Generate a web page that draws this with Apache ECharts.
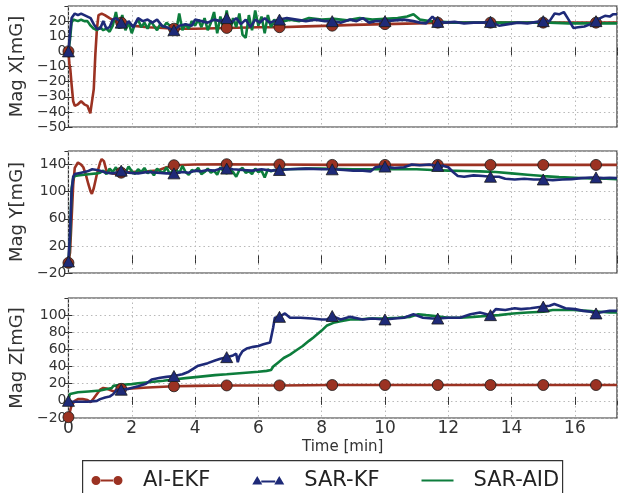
<!DOCTYPE html>
<html>
<head>
<meta charset="utf-8">
<script src="https://cdn.jsdelivr.net/npm/echarts@6/dist/echarts.min.js"></script>
<style>
html,body{margin:0;padding:0;background:#fff;}
#c{width:629px;height:493px;}
</style>
</head>
<body>
<div id="c"></div>
<script>
// ---------- data ----------
const seriesNames = ['AI-EKF', 'SAR-KF', 'SAR-AID'];
const yTitles = ['Mag X[mG]', 'Mag Y[mG]', 'Mag Z[mG]'];
const xTitle = 'Time [min]';
const xMin = 0, xMax = 17.33, xStep = 2;
const yMin = [-50, -20, -20];
const yMax = [30, 160, 120];
const yStep = [10, 40, 20];
const markerTimes = [0, 1.667, 3.333, 5, 6.667, 8.333, 10, 11.667, 13.333, 15, 16.667];

// Mag X
const xEkfT = [0, 0.03, 0.06, 0.1, 0.15, 0.2, 0.3, 0.4, 0.45, 0.5, 0.6, 0.69, 0.74, 0.8, 0.85, 0.9, 0.95, 1.05, 1.15, 1.3, 1.47, 1.667, 2.0, 2.5, 3.0, 3.333, 4.0, 5.0, 6.0, 6.667, 7.5, 8.333, 9.0, 10.0, 11.0, 11.667, 12.5, 13.333, 14.0, 15.0, 16.0, 16.667, 17.33];
const xEkfV = [0, -8, -12, -22, -33, -36, -35, -33, -34, -35, -36, -41, -40, -25, -2, 15, 24, 25, 24, 22, 20, 19, 17, 16, 15.5, 15, 15, 15.5, 16, 16, 16.5, 17, 17.5, 18, 18.5, 19, 19, 19, 19, 19, 19, 19, 19];
const xKfT = [0, 0.05, 0.1, 0.2, 0.3, 0.4, 0.5, 0.6, 0.7, 0.8, 0.9, 1.0, 1.1, 1.2, 1.3, 1.4, 1.5, 1.667, 1.8, 1.9, 2.05, 2.2, 2.35, 2.5, 2.65, 2.8, 2.95, 3.1, 3.2, 3.333, 3.5, 3.7, 3.9, 4.0, 4.2, 4.4, 4.6, 4.8, 5.0, 5.15, 5.3, 5.45, 5.6, 5.75, 5.9, 6.05, 6.2, 6.35, 6.5, 6.667, 6.9, 7.2, 7.5, 7.8, 8.1, 8.333, 8.6, 8.9, 9.1, 9.3, 9.5, 9.7, 10.0, 10.3, 10.6, 10.9, 11.1, 11.3, 11.5, 11.667, 11.9, 12.2, 12.5, 12.8, 13.1, 13.333, 13.6, 13.9, 14.2, 14.5, 14.8, 15.0, 15.2, 15.36, 15.5, 15.65, 15.8, 15.95, 16.1, 16.3, 16.5, 16.667, 16.8, 16.95, 17.1, 17.2, 17.33];
const xKfV = [0, 12, 22, 25, 24, 25, 24, 23, 22, 18, 15, 15, 20, 15, 16, 21, 22, 19, 17, 20, 16, 22, 20, 21, 19, 21, 17, 16, 15, 14, 17, 18, 17, 21, 20, 19, 21, 20, 22, 19, 22, 18, 21, 16, 21, 19, 22, 19, 20, 21, 22, 21, 20, 21, 20, 20, 19, 21, 20, 22, 19, 20, 20, 20.5, 21, 20, 19, 18.5, 23, 19.5, 19, 19.5, 18.5, 19, 19, 19.5, 17, 18, 19, 18.5, 19.5, 20, 20, 25, 24.5, 26, 21, 15.5, 16, 16.5, 18, 20, 22, 23.5, 23, 24.5, 24.5];
const xAidT = [0, 0.05, 0.1, 0.15, 0.2, 0.3, 0.4, 0.5, 0.6, 0.7, 0.8, 0.9,
  1.0, 1.1, 1.2, 1.3, 1.4, 1.5, 1.6, 1.7, 1.8, 1.9, 2.0, 2.1, 2.2, 2.3, 2.4, 2.5, 2.6, 2.7, 2.8, 2.9,
  3.0, 3.1, 3.2, 3.3, 3.4, 3.5, 3.6, 3.7, 3.8, 3.9, 4.0, 4.1, 4.2, 4.3, 4.4, 4.5, 4.6, 4.7, 4.8, 4.9,
  5.0, 5.1, 5.2, 5.3, 5.4, 5.5, 5.6, 5.7, 5.8, 5.9, 6.0, 6.1, 6.2, 6.3, 6.4, 6.5, 6.6,
  6.8, 7.0, 7.3, 7.6, 8.0, 8.4, 8.8, 9.2, 9.6, 10.0, 10.4, 10.7, 10.9, 11.1, 11.4, 11.8, 12.2, 12.8, 13.4, 14.0, 14.6, 15.2, 15.8, 16.4, 17.0, 17.33];
const xAidV = [0, 8, 19, 21, 21, 20, 21, 20, 20, 17, 15, 14,
  16, 14, 15, 13, 17, 26, 15, 24, 14, 19, 12, 18, 21, 16, 19, 15, 20, 17, 14, 18,
  16, 19, 17, 15, 13, 25, 14, 18, 15, 20, 17, 21, 16, 22, 14, 19, 26, 12, 23, 15,
  27, 13, 22, 16, 25, 11, 9, 24, 14, 27, 17, 23, 12, 24, 16, 21, 18,
  20, 21, 20, 22, 21, 21.5, 20.5, 22, 21, 21.5, 22, 23, 24.5, 21, 20, 19.5, 19, 19, 19, 19, 19, 19, 18.5, 18.5, 18.5, 18.5];

// Mag Y
const yEkfT = [0, 0.05, 0.1, 0.15, 0.2, 0.3, 0.4, 0.47, 0.55, 0.63, 0.7, 0.74, 0.8, 0.9, 1.0, 1.05, 1.12, 1.2, 1.3, 1.4, 1.5, 1.667, 2.0, 2.5, 2.8, 3.1, 3.333, 4.0, 5.0, 6.0, 6.667, 8.333, 10.0, 11.667, 13.333, 15.0, 16.667, 17.33];
const yEkfV = [-5, 10, 60, 110, 135, 143, 140, 136, 125, 111, 100, 97, 105, 126, 143, 148, 145, 131, 128, 127, 126, 128, 129, 130, 131, 136, 139, 140, 140.5, 140, 140, 139.5, 139.5, 139.5, 139.5, 139.5, 139.5, 139.5];
const yKfT = [0, 0.05, 0.1, 0.15, 0.2, 0.4, 0.6, 0.75, 0.9, 1.0, 1.2, 1.4, 1.5, 1.667, 1.9, 2.2, 2.5, 2.8, 3.1, 3.333, 3.6, 3.8, 4.0, 4.2, 4.4, 4.6, 4.8, 5.0, 5.2, 5.5, 5.8, 6.1, 6.4, 6.667, 7.0, 7.5, 8.0, 8.333, 8.7, 9.0, 9.3, 9.55, 9.7, 9.85, 10.0, 10.3, 10.6, 10.85, 11.1, 11.4, 11.667, 11.85, 12.0, 12.15, 12.3, 12.5, 12.8, 13.1, 13.333, 13.6, 13.8, 14.1, 14.4, 14.7, 15.0, 15.3, 15.6, 15.9, 16.2, 16.5, 16.667, 16.9, 17.1, 17.33];
const yKfV = [-3, 40, 100, 122, 126, 128, 130, 133, 132, 131, 128, 127, 128, 131, 128, 127, 129, 128, 127, 127, 129, 128, 131, 130, 132, 131, 134, 134, 133, 132, 131, 133, 131, 132, 133, 134, 133, 133, 132, 131, 131, 130, 136, 137, 137, 135, 136, 140, 139, 140, 138, 138, 136, 129, 123, 122, 124, 123, 122, 122, 119, 118, 119, 118, 118, 117, 118, 118.5, 120, 121, 121, 120, 120.5, 120];
const yAidT = [0, 0.05, 0.1, 0.15, 0.2, 0.3, 0.5, 0.7, 0.9,
  1.0, 1.1, 1.2, 1.3, 1.4, 1.5, 1.6, 1.7, 1.8, 1.9, 2.0, 2.1, 2.2, 2.3, 2.4, 2.5, 2.6, 2.7, 2.8, 2.9,
  3.0, 3.1, 3.2, 3.3, 3.4, 3.5, 3.6, 3.7, 3.8, 3.9, 4.0, 4.1, 4.2, 4.3, 4.4, 4.5, 4.6, 4.7, 4.8, 4.9,
  5.0, 5.1, 5.2, 5.3, 5.4, 5.5, 5.6, 5.7, 5.8, 5.9, 6.0, 6.1, 6.2, 6.3, 6.4, 6.5, 6.6,
  6.8, 7.2, 7.6, 8.0, 8.5, 9.0, 9.5, 10.0, 10.5, 11.0, 11.5, 12.0, 12.5, 13.0, 13.5, 14.0, 14.5, 15.0, 15.5, 16.0, 16.5, 17.0, 17.33];
const yAidV = [-5, 30, 105, 120, 123, 124, 125, 126, 127,
  128, 131, 126, 134, 129, 136, 125, 132, 128, 137, 130, 126, 133, 129, 135, 127, 131, 124, 134, 130,
  128, 136, 126, 131, 133, 127, 138, 129, 125, 132, 130, 135, 126, 129, 134, 128, 131, 125, 136, 130,
  127, 133, 129, 122, 132, 135, 128, 130, 126, 134, 129, 131, 121, 133, 130, 132, 131,
  133, 133.5, 134, 134, 133.5, 133, 133, 133, 133, 133, 132, 131, 130.5, 130, 129, 127, 125, 123, 121.5, 120.5, 119.5, 119, 118.5];

// Mag Z
const zEkfT = [0, 0.05, 0.1, 0.2, 0.3, 0.45, 0.6, 0.7, 0.8, 0.9, 1.0, 1.1, 1.2, 1.3, 1.42, 1.55, 1.667, 2.0, 2.5, 3.0, 3.333, 4.0, 5.0, 6.0, 6.667, 8.333, 10.0, 11.667, 13.333, 15.0, 16.667, 17.33];
const zEkfV = [-19, -12, -5, 0, 2, 2, 1, -1.5, 3, 8, 13, 15, 14.5, 13, 11, 13, 14, 14.5, 15.5, 16.5, 17, 17.5, 18, 18, 18, 18.5, 18.5, 18.5, 18.5, 18.5, 18.5, 18.5];
const zKfT = [0, 0.1, 0.3, 0.6, 0.9, 1.0, 1.16, 1.3, 1.42, 1.53, 1.667, 1.9, 2.2, 2.45, 2.63, 2.9, 3.1, 3.333, 3.6, 3.8, 4.1, 4.4, 4.63, 4.8, 5.0, 5.2, 5.3, 5.35, 5.4, 5.5, 5.63, 5.84, 6.0, 6.16, 6.37, 6.43, 6.47, 6.52, 6.667, 6.75, 6.84, 7.0, 7.33, 7.7, 8.0, 8.17, 8.333, 8.6, 8.9, 9.3, 9.6, 10.0, 10.3, 10.6, 10.9, 11.2, 11.5, 11.667, 12.0, 12.37, 12.7, 13.0, 13.333, 13.5, 13.8, 14.1, 14.3, 14.6, 15.0, 15.2, 15.35, 15.5, 15.7, 16.0, 16.26, 16.5, 16.667, 16.9, 17.1, 17.33];
const zKfV = [0, -1, -1, -1, 0, 2, 4, 5, 8, 13, 13, 14, 17, 20, 25, 27, 28, 29, 31, 34, 41, 44, 47, 49, 51, 53, 55, 45, 52, 58, 61, 63, 64, 66, 68, 70, 86, 97, 98, 100, 102, 97, 97, 96, 95, 95, 99, 95, 98, 95, 96, 95, 96, 97, 101, 97, 96, 96, 97, 97, 101, 103, 100, 107, 106, 108, 107, 108, 110, 111, 113, 111, 108, 107, 105, 104, 102, 104, 105, 105];
const zAidT = [0, 0.05, 0.1, 0.3, 0.63, 1.0, 1.37, 1.42, 1.6, 2.0, 2.2, 2.6, 3.0, 3.32, 3.7, 4.1, 4.63, 5.0, 5.5, 6.0, 6.26, 6.4, 6.47, 6.6, 6.8, 7.0, 7.2, 7.4, 7.6, 7.74, 7.84, 8.0, 8.17, 8.37, 8.6, 8.9, 9.2, 9.5, 9.95, 10.4, 10.8, 11.05, 11.3, 11.58, 12.0, 12.37, 12.8, 13.2, 13.6, 14.05, 14.5, 15.0, 15.3, 15.6, 15.95, 16.4, 16.8, 17.1, 17.33];
const zAidV = [2, 8, 9, 10, 11, 12, 15, 17.5, 18.5, 19.5, 20.5, 22, 23.5, 25, 26.5, 28, 30, 31, 32.5, 34, 35, 36, 40, 44, 50, 54, 59, 64, 70, 74, 77, 82, 88, 91, 93, 95, 95, 96, 96, 97, 98, 101, 100, 99, 97, 97, 98, 99, 100, 102, 103, 104, 106, 106, 106, 105, 104, 103, 103];

const panels = [
  [[xEkfT, xEkfV], [xKfT, xKfV], [xAidT, xAidV]],
  [[yEkfT, yEkfV], [yKfT, yKfV], [yAidT, yAidV]],
  [[zEkfT, zEkfV], [zKfT, zKfV], [zAidT, zAidV]]
];

// ---------- styles ----------
const colors = ['#9b3222', '#1e2a78', '#0d7d3c'];
const symbols = ['circle', 'triangle', null];
const symSizes = [11, [12, 11], 0];
const FONT = 'DejaVu Sans';
const gridBoxes = [
  {left: 68, right: 12, top: 6, height: 121},
  {left: 68, right: 12, top: 151, height: 122},
  {left: 68, right: 12, top: 298, height: 120}
];
const dotted = {type: [1.5, 3], color: '#b8b8b8', width: 1};
const minusFmt = v => String(v).replace('-', '\u2212');

function build(T, V, sym) {
  return T.map((t, i) => {
    const isM = sym && markerTimes.some(m => Math.abs(m - t) < 0.002);
    return isM ? {value: [t, V[i]]} : {value: [t, V[i]], symbol: 'none'};
  });
}

const xAxes = [], yAxes = [], series = [];
gridBoxes.forEach((g, i) => {
  const last = i === gridBoxes.length - 1;
  xAxes.push({
    type: 'value', gridIndex: i, min: xMin, max: xMax, interval: xStep, position: 'bottom',
    axisLine: {show: false},
    axisTick: {show: true, inside: true, length: 4, lineStyle: {color: '#333'}},
    axisLabel: {show: last, showMaxLabel: false, margin: 2, fontFamily: FONT, fontSize: 17, color: '#333'},
    splitLine: {show: true, lineStyle: dotted},
    name: last ? xTitle : '', nameLocation: 'middle', nameGap: 22,
    nameTextStyle: {fontFamily: FONT, fontSize: 15, color: '#333', verticalAlign: 'top'}
  });
  xAxes.push({
    type: 'value', gridIndex: i, min: xMin, max: xMax, interval: xStep, position: 'top',
    axisLine: {show: false},
    axisTick: {show: true, inside: true, length: 4, lineStyle: {color: '#333'}},
    axisLabel: {show: false}, splitLine: {show: false}
  });
  yAxes.push({
    type: 'value', gridIndex: i, min: yMin[i], max: yMax[i], interval: yStep[i], position: 'left',
    axisLine: {show: false},
    axisTick: {show: true, inside: true, length: 4, lineStyle: {color: '#333'}},
    axisLabel: {show: true, showMaxLabel: false, margin: 2, fontFamily: FONT, fontSize: 14, color: '#333', formatter: minusFmt},
    splitLine: {show: true, lineStyle: dotted},
    name: yTitles[i], nameLocation: 'middle', nameGap: 35, nameRotate: 90,
    nameTextStyle: {fontFamily: FONT, fontSize: 18, color: '#333'}
  });
  yAxes.push({
    type: 'value', gridIndex: i, min: yMin[i], max: yMax[i], interval: yStep[i], position: 'right',
    axisLine: {show: false},
    axisTick: {show: true, inside: true, length: 4, lineStyle: {color: '#333'}},
    axisLabel: {show: false}, splitLine: {show: false}
  });
  panels[i].forEach((pair, s) => {
    series.push({
      type: 'line', name: seriesNames[s],
      xAxisIndex: 2 * i, yAxisIndex: 2 * i,
      data: build(pair[0], pair[1], symbols[s]),
      symbol: symbols[s] || 'none', symbolSize: symSizes[s],
      showSymbol: !!symbols[s], showAllSymbol: true,
      lineStyle: {color: colors[s], width: 2.6},
      itemStyle: {color: colors[s], borderColor: '#1a1a1a', borderWidth: 0.8},
      emphasis: {disabled: true}, animation: false, clip: true,
      z: s === 1 ? 4 : 3
    });
  });
});

const iconEkf = 'path://M0,0 L0,0 Z M32,10 L32,10 Z M0.5,5 a4.5,4.5 0 1,0 9,0 a4.5,4.5 0 1,0 -9,0 Z M9,4 L23,4 L23,6 L9,6 Z M22.5,5 a4.5,4.5 0 1,0 9,0 a4.5,4.5 0 1,0 -9,0 Z';
const iconKf = 'path://M0,0 L0,0 Z M32,10 L32,10 Z M0,9 L5,0.5 L10,9 Z M9,5 L23,5 L23,7 L9,7 Z M22,9 L27,0.5 L32,9 Z';
const iconAid = 'path://M0,0 L0,0 Z M32,10 L32,10 Z M0,4 L32,4 L32,6 L0,6 Z';

const chart = echarts.init(document.getElementById('c'), null, {renderer: 'canvas'});
chart.setOption({
  backgroundColor: '#fff',
  animation: false,
  grid: gridBoxes.map(g => Object.assign({show: true, borderColor: '#333', borderWidth: 1.2, backgroundColor: 'transparent'}, g)),
  xAxis: xAxes,
  yAxis: yAxes,
  series: series,
  legend: {
    left: 86, top: 465, itemWidth: 32, itemHeight: 10, itemGap: 42, selectedMode: false,
    data: [
      {name: seriesNames[0], icon: iconEkf, itemStyle: {color: colors[0], borderWidth: 0}},
      {name: seriesNames[1], icon: iconKf, itemStyle: {color: colors[1], borderWidth: 0}},
      {name: seriesNames[2], icon: iconAid, itemStyle: {color: colors[2], borderWidth: 0}}
    ],
    textStyle: {fontFamily: FONT, fontSize: 21, color: '#222', padding: [0, 0, 0, 15]}
  },
  graphic: [{
    type: 'rect', left: 82, top: 460, z: 0, silent: true,
    shape: {width: 480, height: 40},
    style: {fill: '#fff', stroke: '#333', lineWidth: 1.2}
  }]
});
</script>
</body>
</html>
